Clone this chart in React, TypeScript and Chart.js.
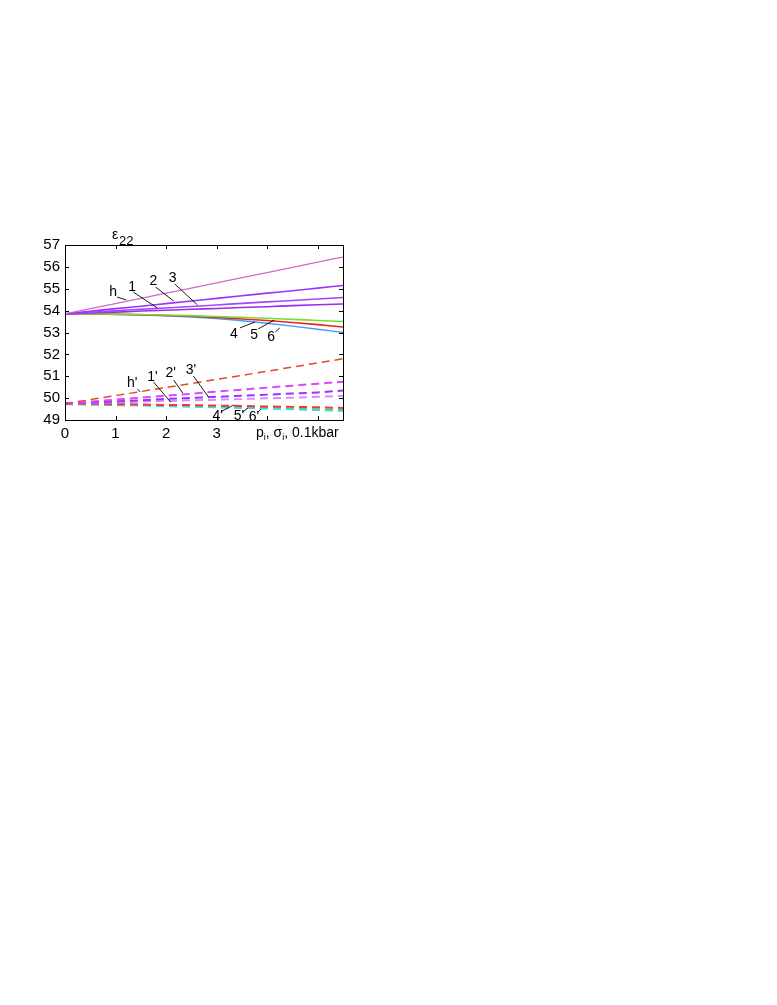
import React, { useEffect, useRef } from "react";
import { Chart, registerables } from "chart.js";

Chart.register(...registerables);

// ---------- data ----------
const XS = [0, 0.5, 1, 1.5, 2, 2.5, 3, 3.5, 4, 4.5, 5, 5.5];
const X_TICKS = [0, 1, 2, 3];
const Y_TICKS = [49, 50, 51, 52, 53, 54, 55, 56, 57];

// solid curves (epsilon_22 for loading p)
const H_SOLID = [53.85, 54.09, 54.32, 54.56, 54.8, 55.03, 55.27, 55.51, 55.74, 55.98, 56.22, 56.45];
const S1 = [53.85, 53.97, 54.09, 54.2, 54.32, 54.44, 54.56, 54.68, 54.8, 54.91, 55.03, 55.15];
const S2 = [53.85, 53.92, 53.99, 54.06, 54.12, 54.19, 54.26, 54.33, 54.4, 54.46, 54.53, 54.6];
const S3 = [53.85, 53.89, 53.93, 53.98, 54.02, 54.06, 54.1, 54.14, 54.18, 54.23, 54.27, 54.3];
const S4 = [53.85, 53.85, 53.84, 53.82, 53.8, 53.77, 53.73, 53.69, 53.65, 53.6, 53.55, 53.5];
const S5 = [53.85, 53.85, 53.83, 53.81, 53.78, 53.74, 53.69, 53.62, 53.55, 53.46, 53.36, 53.25];
const S6 = [53.85, 53.85, 53.83, 53.8, 53.76, 53.71, 53.64, 53.54, 53.42, 53.29, 53.15, 53.0];

// dashed curves (primed)
const H_DASH = [49.75, 49.93, 50.12, 50.3, 50.49, 50.67, 50.86, 51.04, 51.23, 51.42, 51.61, 51.8];
const D1 = [49.75, 49.84, 49.93, 50.02, 50.11, 50.2, 50.3, 50.39, 50.48, 50.57, 50.66, 50.75];
const D2 = [49.75, 49.8, 49.85, 49.9, 49.96, 50.01, 50.06, 50.11, 50.16, 50.21, 50.26, 50.35];
const D3 = [49.75, 49.78, 49.81, 49.84, 49.87, 49.9, 49.93, 49.96, 49.99, 50.02, 50.06, 50.1];
const D4 = [49.75, 49.74, 49.72, 49.71, 49.69, 49.68, 49.66, 49.64, 49.62, 49.6, 49.58, 49.55];
const D5 = [49.75, 49.73, 49.71, 49.69, 49.66, 49.64, 49.61, 49.58, 49.55, 49.52, 49.49, 49.46];
const D6 = [49.72, 49.7, 49.68, 49.66, 49.63, 49.61, 49.58, 49.55, 49.52, 49.49, 49.46, 49.42];

// curve labels: [text, labelX, labelY, leaderFromX, leaderFromY, leaderToX, leaderToY] in data units
const LABELS: [string, number, number, number, number, number, number][] = [
  ["h", 0.95, 54.85, 1.03, 54.62, 1.21, 54.49],
  ["1", 1.33, 55.08, 1.35, 54.85, 1.83, 54.12],
  ["2", 1.75, 55.35, 1.79, 55.08, 2.15, 54.44],
  ["3", 2.13, 55.49, 2.17, 55.22, 2.62, 54.26],
  ["4", 3.34, 52.93, 3.46, 53.21, 3.76, 53.48],
  ["5", 3.74, 52.89, 3.82, 53.16, 4.14, 53.57],
  ["6", 4.08, 52.79, 4.16, 53.02, 4.25, 53.21],
  ["h'", 1.33, 50.69, 1.43, 50.42, 1.49, 50.28],
  ["1'", 1.73, 50.97, 1.75, 50.74, 2.09, 49.82],
  ["2'", 2.09, 51.15, 2.15, 50.83, 2.33, 50.23],
  ["3'", 2.49, 51.29, 2.54, 51.01, 2.84, 50.05],
  ["4'", 3.02, 49.18, 3.08, 49.37, 3.34, 49.69],
  ["5'", 3.44, 49.18, 3.52, 49.37, 3.62, 49.55],
  ["6'", 3.74, 49.14, 3.82, 49.37, 3.88, 49.5],
];

const FONT = "'Liberation Sans', Arial, Helvetica, sans-serif";

const SERIES: { data: number[]; color: string; dashed: boolean; width: number }[] = [
  { data: H_SOLID, color: "#d06ac4", dashed: false, width: 1.3 },
  { data: S1, color: "#9a33ff", dashed: false, width: 1.6 },
  { data: S2, color: "#a844ff", dashed: false, width: 1.6 },
  { data: S3, color: "#9a2cf0", dashed: false, width: 1.6 },
  { data: S4, color: "#77dd33", dashed: false, width: 1.6 },
  { data: S5, color: "#ee2222", dashed: false, width: 1.6 },
  { data: S6, color: "#4499ff", dashed: false, width: 1.4 },
  { data: H_DASH, color: "#e8462c", dashed: true, width: 1.5 },
  { data: D1, color: "#dd44ff", dashed: true, width: 2 },
  { data: D2, color: "#9933ff", dashed: true, width: 2 },
  { data: D3, color: "#dd88ff", dashed: true, width: 2 },
  { data: D4, color: "#ff3333", dashed: true, width: 2 },
  { data: D6, color: "#33dddd", dashed: true, width: 2 },
  { data: D5, color: "#44dd44", dashed: true, width: 2 },
];

const LEFT = 65;
const RIGHT = 343;
const TOP = 245;
const BOTTOM = 420;
const W = 777;
const H = 1005;

const decorPlugin = {
  id: "decor",
  afterDatasetsDraw(chart: any) {
    const { ctx, chartArea, scales } = chart;
    const xs = scales.x;
    const ys = scales.y;
    ctx.save();
    // frame
    ctx.strokeStyle = "#000";
    ctx.lineWidth = 1;
    ctx.strokeRect(
      Math.round(chartArea.left) + 0.5,
      Math.round(chartArea.top) + 0.5,
      Math.round(chartArea.right - chartArea.left),
      Math.round(chartArea.bottom - chartArea.top)
    );
    // inward ticks
    const tl = 4;
    ctx.beginPath();
    for (let v = 0; v <= xs.max + 1e-9; v += 1) {
      const px = Math.round(xs.getPixelForValue(v)) + 0.5;
      ctx.moveTo(px, chartArea.bottom);
      ctx.lineTo(px, chartArea.bottom - tl);
      ctx.moveTo(px, chartArea.top);
      ctx.lineTo(px, chartArea.top + tl);
    }
    for (const v of Y_TICKS) {
      const py = Math.round(ys.getPixelForValue(v)) + 0.5;
      ctx.moveTo(chartArea.left, py);
      ctx.lineTo(chartArea.left + tl, py);
      ctx.moveTo(chartArea.right, py);
      ctx.lineTo(chartArea.right - tl, py);
    }
    ctx.stroke();

    // curve labels
    ctx.fillStyle = "#000";
    ctx.font = `14px ${FONT}`;
    ctx.textAlign = "center";
    ctx.textBaseline = "middle";
    ctx.lineWidth = 0.9;
    for (const [t, lx, ly, ax, ay, bx, by] of LABELS) {
      ctx.fillText(t, xs.getPixelForValue(lx), ys.getPixelForValue(ly));
      ctx.beginPath();
      ctx.moveTo(xs.getPixelForValue(ax), ys.getPixelForValue(ay));
      ctx.lineTo(xs.getPixelForValue(bx), ys.getPixelForValue(by));
      ctx.stroke();
    }

    // y axis title epsilon_22
    ctx.textAlign = "left";
    ctx.textBaseline = "alphabetic";
    ctx.font = `14px ${FONT}`;
    ctx.fillText("ε", 112, 239);
    ctx.font = `13px ${FONT}`;
    ctx.fillText("22", 119, 245);

    // x axis title p_i, sigma_i, 0.1kbar
    let x = 256;
    const base = 437;
    const seg = (s: string, size: number, dy: number) => {
      ctx.font = `${size}px ${FONT}`;
      ctx.fillText(s, x, base + dy);
      x += ctx.measureText(s).width;
    };
    seg("p", 14, 0);
    seg("i", 9, 3);
    seg(", σ", 14, 0);
    seg("i", 9, 3);
    seg(", 0.1kbar", 14, 0);
    ctx.restore();
  },
};

export default function App() {
  const ref = useRef<HTMLCanvasElement | null>(null);
  useEffect(() => {
    if (!ref.current) return;
    const chart = new Chart(ref.current, {
      type: "line",
      data: {
        datasets: SERIES.map((s) => ({
          data: XS.map((x, i) => ({ x, y: s.data[i] })),
          borderColor: s.color,
          backgroundColor: s.color,
          borderWidth: s.width,
          borderDash: s.dashed ? [8, 5] : [],
          pointRadius: 0,
          cubicInterpolationMode: "monotone" as const,
          fill: false,
        })),
      },
      options: {
        responsive: false,
        animation: false,
        plugins: { legend: { display: false }, tooltip: { enabled: false } },
        layout: {
          padding: { left: LEFT - 30, right: W - RIGHT, top: TOP, bottom: H - BOTTOM - 20 },
        },
        scales: {
          x: {
            type: "linear",
            min: 0,
            max: 5.5,
            grid: { display: false, drawTicks: false },
            border: { display: false },
            afterFit: (s: any) => {
              s.height = 20;
            },
            afterBuildTicks: (s: any) => {
              s.ticks = X_TICKS.map((v) => ({ value: v }));
            },
            ticks: {
              color: "#000",
              font: { size: 15, family: FONT },
              padding: 5,
              maxRotation: 0,
              autoSkip: false,
            },
          },
          y: {
            type: "linear",
            min: 49,
            max: 57,
            grid: { display: false, drawTicks: false },
            border: { display: false },
            afterFit: (s: any) => {
              s.width = 30;
            },
            afterBuildTicks: (s: any) => {
              s.ticks = Y_TICKS.map((v) => ({ value: v }));
            },
            ticks: {
              color: "#000",
              font: { size: 15, family: FONT },
              padding: 5,
            },
          },
        },
      },
      plugins: [decorPlugin],
    });
    return () => chart.destroy();
  }, []);
  return (
    <div style={{ position: "absolute", left: 0, top: 0, width: W, height: H }}>
      <canvas ref={ref} width={W} height={H} style={{ width: W, height: H }} />
    </div>
  );
}
